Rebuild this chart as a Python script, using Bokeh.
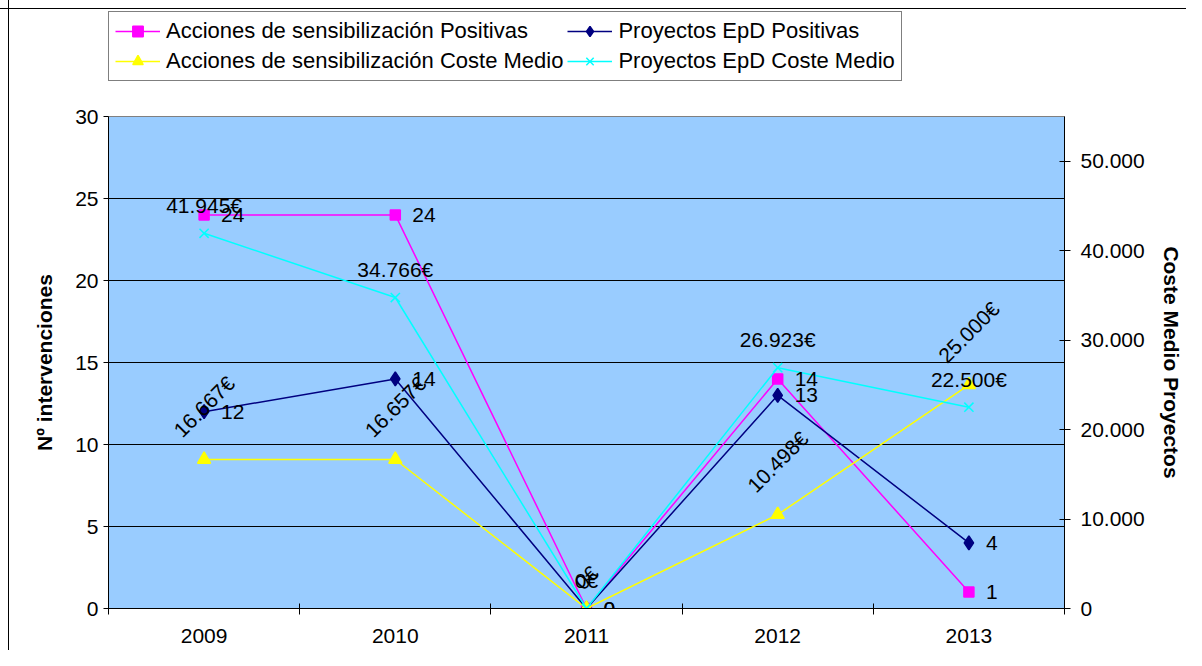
from bokeh.plotting import figure
from bokeh.models import (Range1d, LinearAxis, FixedTicker, Legend, LegendItem,
                          ColumnDataSource, LabelSet)
from bokeh.layouts import column
from bokeh.core.properties import value
from bokeh.embed import file_html
from bokeh.resources import INLINE
import math

# ---- data ----
years = ["2009", "2010", "2011", "2012", "2013"]
acc_pos = [24, 24, 0, 14, 1]              # Acciones de sensibilización Positivas
proy_pos = [12, 14, 0, 13, 4]             # Proyectos EpD Positivas
acc_coste = [16667, 16657, 0, 10498, 25000]   # Acciones de sensibilización Coste Medio
proy_coste = [41945, 34766, 0, 26923, 22500]  # Proyectos EpD Coste Medio
series_names = ["Acciones de sensibilización Positivas", "Proyectos EpD Positivas",
                "Acciones de sensibilización Coste Medio", "Proyectos EpD Coste Medio"]
left_ticks = [0, 5, 10, 15, 20, 25, 30]
right_ticks = [0, 10000, 20000, 30000, 40000, 50000]

FONT = "Liberation Sans"
FS = "21px"
MAG, NAVY, YEL, CYAN = "#FF00FF", "#000080", "#FFFF00", "#00FFFF"
STYLES = [
    dict(color=MAG, marker="square", size=10),
    dict(color=NAVY, marker="diamond", size=14),
    dict(color=YEL, marker="triangle", size=13),
    dict(color=CYAN, marker="x", size=13),
]


def eur(v):
    return f"{v:,}".replace(",", ".") + "€"


def thou(v):
    return f"{v:,}".replace(",", ".")


W = 1186
LEG_H = 90
MAIN_H = 650 - LEG_H

x = [i + 0.5 for i in range(len(years))]

# ---------------- main plot ----------------
p = figure(width=W, height=MAIN_H, output_backend="svg", toolbar_location=None,
           x_range=Range1d(0, len(years)), y_range=Range1d(0, 30),
           min_border_left=108, min_border_right=122, min_border_top=116 - LEG_H,
           min_border_bottom=42)
p.extra_y_ranges = {"coste": Range1d(0, 55000)}

p.background_fill_color = "#99CCFF"
p.border_fill_alpha = 0
p.outline_line_color = "#808080"
p.outline_line_width = 1

p.xgrid.visible = False
p.ygrid.ticker = FixedTicker(ticks=left_ticks)
p.ygrid.grid_line_color = "black"
p.ygrid.grid_line_width = 1

xa = p.xaxis[0]
xa.ticker = FixedTicker(ticks=x, minor_ticks=list(range(len(years) + 1)))
xa.major_label_overrides = {xi: y for xi, y in zip(x, years)}
xa.major_tick_in = 0
xa.major_tick_out = 0
xa.minor_tick_in = 5
xa.minor_tick_out = 6
xa.minor_tick_line_color = "black"
xa.axis_line_color = "black"
xa.major_label_text_font = FONT
xa.major_label_text_font_size = FS
xa.major_label_text_color = "black"
xa.major_label_standoff = 14

ya = p.yaxis[0]
ya.ticker = FixedTicker(ticks=left_ticks)
ya.major_tick_in = 0
ya.major_tick_out = 5
ya.minor_tick_line_color = None
ya.axis_line_color = "black"
ya.major_tick_line_color = "black"
ya.major_label_text_font = FONT
ya.major_label_text_font_size = FS
ya.major_label_text_color = "black"
ya.major_label_standoff = 5
ya.axis_label = "Nº intervenciones"
ya.axis_label_text_font = FONT
ya.axis_label_text_font_size = FS
ya.axis_label_text_font_style = "bold"
ya.axis_label_text_color = "black"
ya.axis_label_standoff = 16

ra = LinearAxis(y_range_name="coste", ticker=FixedTicker(ticks=right_ticks))
ra.major_label_overrides = {t: thou(t) for t in right_ticks}
ra.major_tick_in = 5
ra.major_tick_out = 6
ra.minor_tick_line_color = None
ra.axis_line_color = "black"
ra.major_tick_line_color = "black"
ra.major_label_text_font = FONT
ra.major_label_text_font_size = FS
ra.major_label_text_color = "black"
ra.major_label_standoff = 10
ra.axis_label = "Coste Medio Proyectos"
ra.axis_label_text_font = FONT
ra.axis_label_text_font_size = FS
ra.axis_label_text_font_style = "bold"
ra.axis_label_text_color = "black"
ra.axis_label_standoff = 12
p.add_layout(ra, "right")

src_ap = ColumnDataSource(dict(x=x, y=acc_pos, t=[str(v) for v in acc_pos]))
src_pp = ColumnDataSource(dict(x=x, y=proy_pos, t=[str(v) for v in proy_pos]))
src_ac = ColumnDataSource(dict(x=x, y=acc_coste, t=[eur(v) for v in acc_coste],
                               off=[22 + 4.4 * len(eur(v)) for v in acc_coste]))
src_pc = ColumnDataSource(dict(x=x, y=proy_coste, t=[eur(v) for v in proy_coste]))

for src, st, rn in ((src_ap, STYLES[0], "default"), (src_pp, STYLES[1], "default"),
                    (src_ac, STYLES[2], "coste"), (src_pc, STYLES[3], "coste")):
    p.line("x", "y", source=src, y_range_name=rn, line_color=st["color"], line_width=1.5)
    p.scatter("x", "y", source=src, y_range_name=rn, marker=st["marker"], size=st["size"],
              fill_color=st["color"], line_color=st["color"], line_width=1.5)

for s in (src_ap, src_pp):
    p.add_layout(LabelSet(x="x", y="y", text="t", source=s,
                          x_offset=17, text_align="left", text_baseline="middle",
                          text_font=value(FONT), text_font_size=value(FS),
                          text_color="black"))
p.add_layout(LabelSet(x="x", y="y", text="t", source=src_pc, y_range_name="coste",
                      y_offset=28, text_align="center", text_baseline="middle",
                      text_font=value(FONT), text_font_size=value(FS), text_color="black"))
p.add_layout(LabelSet(x="x", y="y", text="t", source=src_ac, y_range_name="coste",
                      y_offset="off", angle=math.pi / 4, text_align="center",
                      text_baseline="middle",
                      text_font=value(FONT), text_font_size=value(FS), text_color="black"))

# ---------------- legend strip ----------------
lg = figure(width=W, height=LEG_H, output_backend="svg", toolbar_location=None,
            x_range=Range1d(0, 1), y_range=Range1d(0, 1),
            x_axis_type=None, y_axis_type=None,
            min_border_left=0, min_border_right=0, min_border_top=0, min_border_bottom=0)
lg.outline_line_color = None
lg.background_fill_alpha = 0
lg.border_fill_alpha = 0
lg.xgrid.visible = False
lg.ygrid.visible = False

items = []
for name, st in zip(series_names, STYLES):
    r1 = lg.line(x=[-5, -4], y=[-5, -4], line_color=st["color"], line_width=1.5)
    r2 = lg.scatter(x=[-5], y=[-5], marker=st["marker"], size=st["size"],
                    fill_color=st["color"], line_color=st["color"], line_width=1.5)
    items.append(LegendItem(label=name, renderers=[r1, r2]))

legend = Legend(items=items, orientation="horizontal", ncols=2, location=(0, 9))
legend.label_text_font = FONT
legend.label_text_font_size = "22px"
legend.label_text_color = "black"
legend.glyph_width = 45
legend.glyph_height = 26
legend.label_height = 26
legend.label_standoff = 6
legend.spacing = 4
legend.padding = 6
legend.margin = 0
legend.border_line_color = "black"
legend.border_line_width = 1
legend.background_fill_color = "white"
legend.background_fill_alpha = 1
lg.add_layout(legend, "center")

layout = column(lg, p, spacing=0)
layout.styles = {
    "background-color": "white",
    "background-image": "linear-gradient(black, black), linear-gradient(black, black)",
    "background-size": "1px 100%, 100% 1px",
    "background-position": "8px 0px, 0px 8px",
    "background-repeat": "no-repeat",
}

open("out.html", "w").write(file_html(layout, INLINE))
